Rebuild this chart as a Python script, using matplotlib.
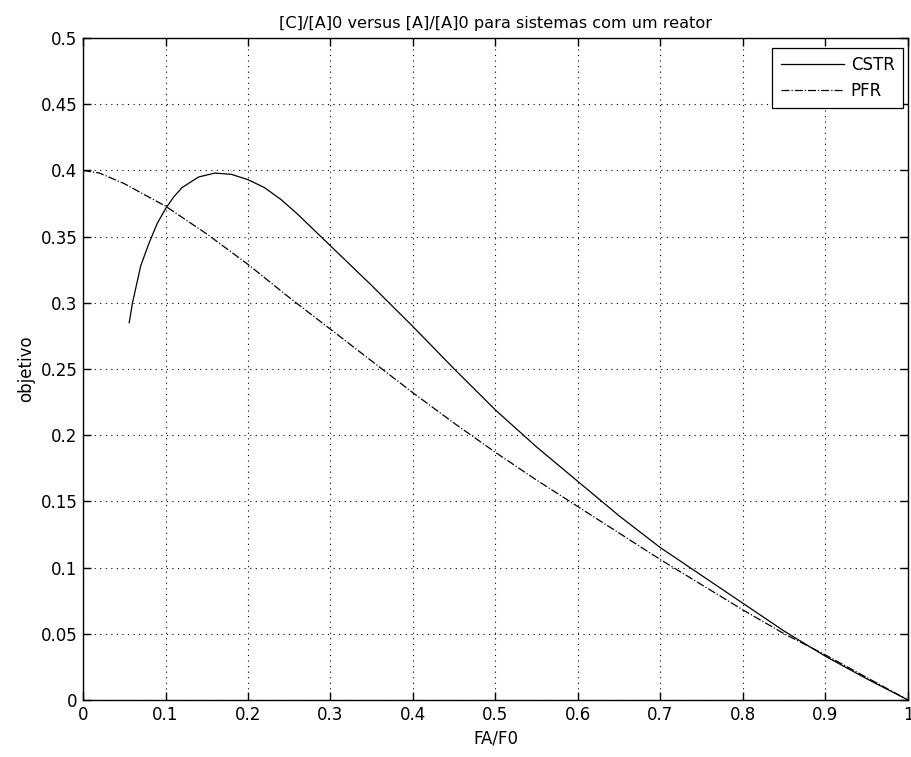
import numpy as np
import matplotlib
matplotlib.use('Agg')
import matplotlib.pyplot as plt

plt.rcParams['font.family'] = ['DejaVu Sans']

# CSTR curve
cstr_x = [0.056, 0.06, 0.07, 0.08, 0.09, 0.10, 0.11, 0.12, 0.14, 0.16, 0.18,
          0.20, 0.22, 0.24, 0.26, 0.28, 0.30, 0.35, 0.40, 0.45, 0.50, 0.55,
          0.60, 0.65, 0.70, 0.75, 0.80, 0.85, 0.90, 0.95, 1.00]
cstr_y = [0.285, 0.300, 0.328, 0.345, 0.360, 0.371, 0.380, 0.387, 0.395, 0.398, 0.397,
          0.393, 0.387, 0.378, 0.367, 0.355, 0.343, 0.313, 0.282, 0.250, 0.219, 0.191,
          0.165, 0.139, 0.115, 0.094, 0.073, 0.052, 0.033, 0.016, 0.0]

# PFR curve
pfr_x = [0.0, 0.02, 0.05, 0.10, 0.15, 0.20, 0.25, 0.30, 0.35, 0.40, 0.45, 0.50,
         0.55, 0.60, 0.65, 0.70, 0.75, 0.80, 0.85, 0.90, 0.95, 1.00]
pfr_y = [0.400, 0.398, 0.390, 0.373, 0.352, 0.329, 0.304, 0.280, 0.256, 0.232, 0.209, 0.187,
         0.166, 0.146, 0.126, 0.106, 0.087, 0.068, 0.050, 0.034, 0.017, 0.0]

xticks = np.round(np.arange(0, 1.01, 0.1), 2)
yticks = np.round(np.arange(0, 0.501, 0.05), 2)
xlabels = ['0', '0.1', '0.2', '0.3', '0.4', '0.5', '0.6', '0.7', '0.8', '0.9', '1']
ylabels = ['0', '0.05', '0.1', '0.15', '0.2', '0.25', '0.3', '0.35', '0.4', '0.45', '0.5']

fig = plt.figure(figsize=(9.12, 7.57), dpi=100)
ax = fig.add_axes([83 / 912, 1 - 700 / 757, 825 / 912, 662 / 757])

ax.plot(cstr_x, cstr_y, color='black', lw=0.9, label='CSTR')
ax.plot(pfr_x, pfr_y, color='black', lw=0.9, linestyle='-.', label='PFR')

ax.set_xlim(0, 1)
ax.set_ylim(0, 0.5)
ax.set_xticks(xticks)
ax.set_xticklabels(xlabels)
ax.set_yticks(yticks)
ax.set_yticklabels(ylabels)
ax.tick_params(direction='in', length=6, width=1, top=True, right=True,
               labelsize=12, pad=4)
ax.grid(True, color='black', linestyle=(0, (1, 4)), linewidth=0.8)
for s in ax.spines.values():
    s.set_linewidth(1)

ax.set_xlabel('FA/F0', fontsize=12, labelpad=4)
ax.set_ylabel('objetivo', fontsize=12, labelpad=4)
ax.set_title('[C]/[A]0 versus [A]/[A]0 para sistemas com um reator', fontsize=11.6, pad=7)

leg = ax.legend(loc='upper right', bbox_to_anchor=(820 / 825, 652 / 662),
                fancybox=False, framealpha=1, edgecolor='black',
                fontsize=12, handlelength=3.8, handletextpad=0.4,
                borderpad=0.5, labelspacing=0.45, borderaxespad=0)
leg.get_frame().set_linewidth(0.9)

fig.savefig('out.png', dpi=100)
